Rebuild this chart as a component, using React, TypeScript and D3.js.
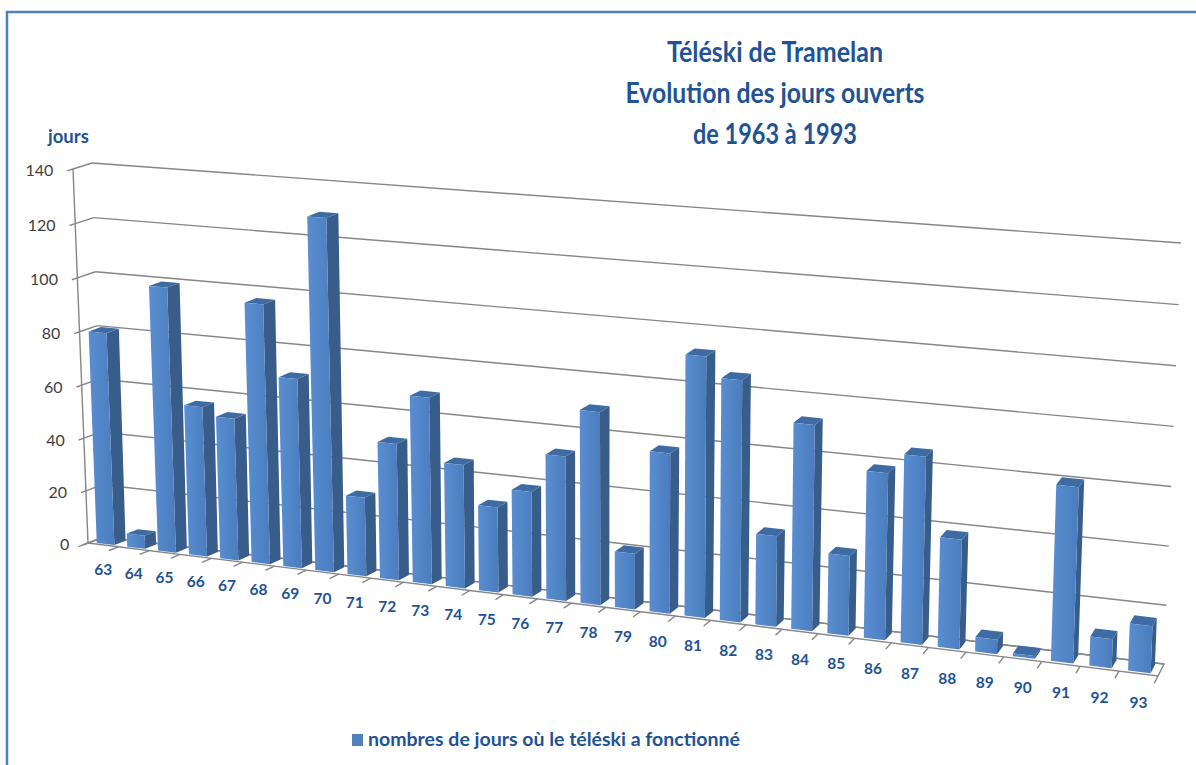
import React, { useEffect, useRef } from 'react';
import * as d3 from 'd3';

// data
const years = [
  '63', '64', '65', '66', '67', '68', '69', '70', '71', '72', '73', '74', '75', '76', '77', '78',
  '79', '80', '81', '82', '83', '84', '85', '86', '87', '88', '89', '90', '91', '92', '93',
];
const days = [
  80, 5, 99, 56, 53, 96, 70, 129, 29, 50, 68, 45, 31, 38, 52, 69,
  20, 57, 92, 85, 32, 72, 28, 58, 65, 38, 5, 1, 60, 10, 16,
];
const yTicks = [0, 20, 40, 60, 80, 100, 120, 140];
const titleLines = ['Téléski de Tramelan', 'Evolution des jours ouverts', 'de 1963 à 1993'];
const titleWidths = [216, 299, 164];
const axisTitle = 'jours';
const legendLabel = 'nombres de jours où le téléski a fonctionné';

const width = 1196;
const height = 765;

// screen corners of the front (depth 0) and back (depth 1) planes
// order: left/0, right/0, right/top, left/top
const frontQuad: number[][] = [[88, 543], [1158, 676], [1174, 253], [73, 169]];
const backQuad: number[][] = [[104, 537], [1164, 664], [1181, 243], [92, 163]];

// unit square -> quad (perspective)
function quadMap(q: number[][]) {
  const [[x0, y0], [x1, y1], [x2, y2], [x3, y3]] = q;
  const dx1 = x1 - x2, dx2 = x3 - x2, sx = x0 - x1 + x2 - x3;
  const dy1 = y1 - y2, dy2 = y3 - y2, sy = y0 - y1 + y2 - y3;
  const det = dx1 * dy2 - dx2 * dy1;
  const g = (sx * dy2 - dx2 * sy) / det;
  const h = (dx1 * sy - sx * dy1) / det;
  const a = x1 - x0 + g * x1, b = x3 - x0 + h * x3, c = x0;
  const d = y1 - y0 + g * y1, e = y3 - y0 + h * y3, f = y0;
  return (u: number, v: number) => {
    const z = g * u + h * v + 1;
    return [(a * u + b * v + c) / z, (d * u + e * v + f) / z];
  };
}

const front = quadMap(frontQuad);
const back = quadMap(backQuad);
const project = (u: number, v: number, w: number): [number, number] => {
  const p = front(u, v);
  const q = back(u, v);
  return [p[0] + (q[0] - p[0]) * w, p[1] + (q[1] - p[1]) * w];
};

const blue = '#1F5394';
const gridColor = '#868686';

export default function App() {
  const ref = useRef<SVGSVGElement>(null);

  useEffect(() => {
    const svg = d3.select(ref.current);
    svg.selectAll('*').remove();

    const x = d3.scaleBand().domain(years).range([0, 1]).paddingInner(0.42).paddingOuter(0.21);
    const slot = d3.scaleLinear().domain([0, years.length]).range([0, 1]);
    const y = d3.scaleLinear().domain([0, 140]).range([0, 1]);
    const line = d3.line();

    const defs = svg.append('defs');
    const grad = defs.append('linearGradient').attr('id', 'barFront').attr('x1', 0).attr('x2', 1);
    grad.append('stop').attr('offset', 0).attr('stop-color', '#5A8ED0');
    grad.append('stop').attr('offset', 1).attr('stop-color', '#4A7DBE');

    // frame
    svg
      .append('rect')
      .attr('x', 7)
      .attr('y', 12)
      .attr('width', 1300)
      .attr('height', 900)
      .attr('fill', '#fff')
      .attr('stroke', '#4F81BD')
      .attr('stroke-width', 2.5);

    // title
    svg
      .append('g')
      .selectAll('text')
      .data(titleLines)
      .enter()
      .append('text')
      .attr('x', 775)
      .attr('y', (d, i) => 62 + i * 41)
      .attr('text-anchor', 'middle')
      .attr('textLength', (d, i) => titleWidths[i])
      .attr('lengthAdjust', 'spacingAndGlyphs')
      .style('font-family', 'Lato, sans-serif')
      .style('font-weight', 'bold')
      .style('font-size', '28px')
      .attr('fill', blue)
      .text((d) => d);

    svg
      .append('text')
      .attr('x', 48)
      .attr('y', 143)
      .style('font-family', 'Lato, sans-serif')
      .style('font-weight', 'bold')
      .style('font-size', '18.5px')
      .attr('fill', blue)
      .text(axisTitle);

    const grid = svg.append('g').attr('fill', 'none').attr('stroke', gridColor).attr('stroke-width', 1.4);

    // back wall + side wall gridlines, ticks
    yTicks.forEach((t) => {
      const v = y(t);
      grid.append('path').attr('d', line([project(0, v, 1), project(1, v, 1)]));
      grid.append('path').attr('d', line([project(0, v, -0.3), project(0, v, 0), project(0, v, 1)]));
    });
    // value axis
    grid.append('path').attr('d', line([project(0, 0, 0), project(0, 1, 0)]));
    // floor
    grid
      .append('path')
      .attr('d', line([project(0, 0, 0), project(1, 0, 0), project(1, 0, 1), project(0, 0, 1)]) + 'Z');
    // category ticks
    d3.range(years.length + 1).forEach((k) => {
      const u = slot(k);
      grid.append('path').attr('d', line([project(u, 0, 0), project(u, 0, -0.6)]));
    });

    // y labels
    svg
      .append('g')
      .selectAll('text')
      .data(yTicks)
      .enter()
      .append('text')
      .attr('x', (t) => project(0, y(t), -0.3)[0] - 14)
      .attr('y', (t) => project(0, y(t), -0.3)[1])
      .attr('dy', '0.35em')
      .attr('text-anchor', 'end')
      .style('font-family', 'Lato, sans-serif')
      .style('font-size', '16px')
      .attr('fill', '#404040')
      .text((t) => t);

    // bars, drawn far (left) to near (right)
    const w0 = 0.15;
    const w1 = 0.85;
    const bars = svg.append('g');
    years.forEach((yr, i) => {
      const u0 = x(yr) as number;
      const u1 = u0 + x.bandwidth();
      const v = y(days[i]);
      const g = bars.append('g');
      g.append('path')
        .attr('d', line([project(u1, 0, w0), project(u1, 0, w1), project(u1, v, w1), project(u1, v, w0)]) + 'Z')
        .attr('fill', '#385D8A');
      g.append('path')
        .attr('d', line([project(u0, v, w0), project(u1, v, w0), project(u1, v, w1), project(u0, v, w1)]) + 'Z')
        .attr('fill', '#3F6BA3');
      g.append('path')
        .attr('d', line([project(u0, 0, w0), project(u1, 0, w0), project(u1, v, w0), project(u0, v, w0)]) + 'Z')
        .attr('fill', 'url(#barFront)');
    });

    // x labels
    svg
      .append('g')
      .selectAll('text')
      .data(years)
      .enter()
      .append('text')
      .attr('x', (d) => project((x(d) as number) + x.bandwidth() / 2, 0, 0)[0])
      .attr('y', (d) => {
        const u = (x(d) as number) + x.bandwidth() / 2;
        return project(u, 0, 0)[1] + 25 + 4 * u;
      })
      .attr('dy', '0.35em')
      .attr('text-anchor', 'middle')
      .style('font-family', 'Lato, sans-serif')
      .style('font-weight', 'bold')
      .style('font-size', '15.5px')
      .attr('fill', blue)
      .text((d) => d);

    // legend
    svg.append('rect').attr('x', 352).attr('y', 734).attr('width', 11).attr('height', 12).attr('fill', '#4F81BD');
    svg
      .append('text')
      .attr('x', 368)
      .attr('y', 746)
      .style('font-family', 'Lato, sans-serif')
      .style('font-weight', 'bold')
      .style('font-size', '19.5px')
      .attr('fill', blue)
      .text(legendLabel);
  }, []);

  return (
    <svg
      ref={ref}
      width={width}
      height={height}
      style={{ position: 'absolute', left: 0, top: 0, background: '#fff' }}
    />
  );
}
